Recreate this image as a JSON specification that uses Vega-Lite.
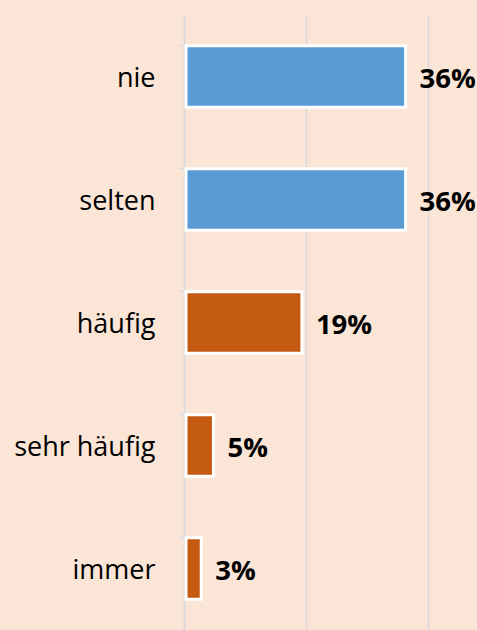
{
  "$schema": "https://vega.github.io/schema/vega-lite/v6.json",
  "width": 244,
  "height": 615,
  "autosize": {"type": "none"},
  "padding": {"left": 184, "top": 15, "right": 49, "bottom": 0},
  "background": "#FBE5D6",
  "config": {
    "view": {"stroke": null},
    "font": "Open Sans"
  },
  "data": {
    "values": [
      {"kategorie": "nie", "anteil": 0.36, "label": "36%", "gruppe": "selten"},
      {"kategorie": "selten", "anteil": 0.36, "label": "36%", "gruppe": "selten"},
      {"kategorie": "häufig", "anteil": 0.19, "label": "19%", "gruppe": "oft"},
      {"kategorie": "sehr häufig", "anteil": 0.045, "label": "5%", "gruppe": "oft"},
      {"kategorie": "immer", "anteil": 0.025, "label": "3%", "gruppe": "oft"}
    ]
  },
  "encoding": {
    "y": {
      "field": "kategorie",
      "type": "nominal",
      "sort": null,
      "scale": {"paddingInner": 0.5, "paddingOuter": 0.25},
      "axis": {
        "title": null,
        "bandPosition": 0,
        "domainColor": "#D9D9D9",
        "domainWidth": 1.5,
        "tickColor": "#D9D9D9",
        "tickWidth": 1.5,
        "tickSize": 6,
        "labelFontSize": 27,
        "labelColor": "#000000",
        "labelPadding": 23,
        "labelOffset": 2,
        "labelFont": "Open Sans",
        "grid": false
      }
    }
  },
  "layer": [
    {
      "mark": {"type": "bar", "stroke": "#FFFFFF", "strokeWidth": 3, "xOffset": 2},
      "encoding": {
        "x": {
          "field": "anteil",
          "type": "quantitative",
          "scale": {"domain": [0, 0.4]},
          "axis": {
            "title": null,
            "labels": false,
            "ticks": false,
            "domain": false,
            "values": [0, 0.2, 0.4],
            "gridColor": "#D9D9D9",
            "gridWidth": 1.5
          }
        },
        "color": {
          "field": "gruppe",
          "type": "nominal",
          "scale": {"domain": ["selten", "oft"], "range": ["#5B9BD5", "#C55A11"]},
          "legend": null
        }
      }
    },
    {
      "mark": {"type": "text", "align": "left", "dx": 16, "dy": 3, "fontSize": 27.5, "fontWeight": "bold", "font": "Open Sans", "color": "#000000"},
      "encoding": {
        "x": {"field": "anteil", "type": "quantitative"},
        "text": {"field": "label"}
      }
    }
  ]
}
